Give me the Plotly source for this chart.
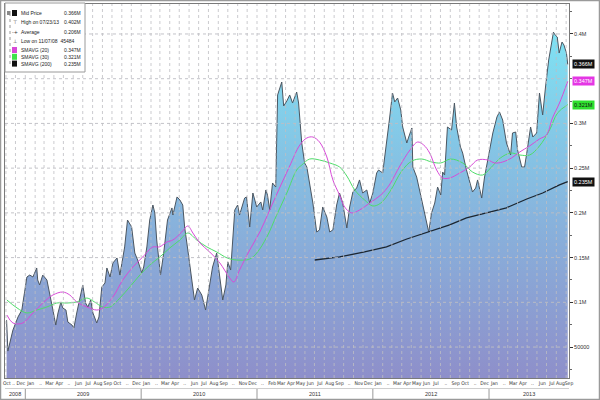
import plotly.graph_objects as go
import pandas as pd

# ---------------- data ----------------
price_dates = [
    "2008-11-03", "2008-11-07", "2008-11-23", "2008-12-09", "2008-12-21", "2008-12-24",
    "2009-01-06", "2009-01-15", "2009-01-25", "2009-02-06", "2009-02-09", "2009-02-15",
    "2009-02-25", "2009-03-10", "2009-03-19", "2009-03-29", "2009-04-07", "2009-04-14",
    "2009-04-23", "2009-04-29", "2009-05-09", "2009-05-15", "2009-05-28", "2009-06-03",
    "2009-06-12", "2009-06-22", "2009-07-01", "2009-07-10", "2009-07-17", "2009-07-26",
    "2009-08-02", "2009-08-14", "2009-08-21", "2009-08-30", "2009-09-09", "2009-09-15",
    "2009-09-25", "2009-10-04", "2009-10-17", "2009-10-26", "2009-11-10", "2009-11-19",
    "2009-12-02", "2009-12-12", "2009-12-21", "2010-01-03", "2010-01-09", "2010-01-19",
    "2010-01-28", "2010-02-07", "2010-02-13", "2010-02-19", "2010-03-03", "2010-03-13",
    "2010-03-25", "2010-04-08", "2010-04-11", "2010-04-24", "2010-05-03", "2010-05-12",
    "2010-05-18", "2010-05-28", "2010-06-09", "2010-06-18", "2010-06-28", "2010-07-11",
    "2010-07-23", "2010-08-02", "2010-08-14", "2010-08-27", "2010-09-06", "2010-09-15",
    "2010-09-25", "2010-10-01", "2010-10-10", "2010-10-23", "2010-11-01", "2010-11-07",
    "2010-11-23", "2010-11-29", "2010-12-09", "2010-12-19", "2010-12-31", "2011-01-13",
    "2011-01-19", "2011-01-29", "2011-02-03", "2011-02-10", "2011-02-19", "2011-03-01",
    "2011-03-07", "2011-03-20", "2011-03-26", "2011-04-05", "2011-04-14", "2011-04-23",
    "2011-05-06", "2011-05-12", "2011-05-22", "2011-05-31", "2011-06-07", "2011-06-16",
    "2011-06-26", "2011-07-08", "2011-07-17", "2011-07-27", "2011-08-09", "2011-08-18",
    "2011-08-28", "2011-09-09", "2011-09-18", "2011-09-28", "2011-10-11", "2011-10-20",
    "2011-10-30", "2011-11-11", "2011-11-20", "2011-11-30", "2011-12-13", "2011-12-22",
    "2012-01-01", "2012-01-13", "2012-01-19", "2012-02-01", "2012-02-13", "2012-02-22",
    "2012-03-03", "2012-03-10", "2012-03-19", "2012-03-29", "2012-04-04", "2012-04-17",
    "2012-04-23", "2012-05-03", "2012-05-06", "2012-05-18", "2012-06-03", "2012-06-12",
    "2012-06-25", "2012-07-04", "2012-07-14", "2012-07-23", "2012-08-02", "2012-08-08",
    "2012-08-14", "2012-08-23", "2012-09-05", "2012-09-14", "2012-09-21", "2012-10-03",
    "2012-10-10", "2012-10-22", "2012-11-01", "2012-11-10", "2012-11-20", "2012-11-26",
    "2012-12-09", "2012-12-18", "2012-12-28", "2013-01-13", "2013-01-26", "2013-02-03",
    "2013-02-13", "2013-02-25", "2013-03-10", "2013-03-16", "2013-03-26", "2013-04-01",
    "2013-04-14", "2013-04-23", "2013-04-30", "2013-05-12", "2013-05-19", "2013-05-31",
    "2013-06-09", "2013-06-19", "2013-06-28", "2013-07-08", "2013-07-23", "2013-07-28",
    "2013-08-04", "2013-08-10", "2013-08-19", "2013-08-25", "2013-09-02", "2013-09-06",
]
price_vals = [
    80000, 45484, 69000, 83600, 91400, 99200,
    128300, 130500, 128300, 138400, 125000, 119400,
    130500, 125000, 110400, 91400, 74600, 88100,
    100400, 93700, 91400, 78000, 74600, 71300,
    88100, 106000, 119400, 99200, 94800, 102600,
    88100, 76900, 83600, 117100, 121600, 138400,
    128300, 144000, 149600, 130500, 161900, 192000,
    184200, 155100, 147300, 132800, 139500, 161900,
    192000, 208800, 199900, 169700, 130500, 155100,
    192000, 205500, 197600, 217800, 214400, 208800,
    184200, 158500, 125000, 102600, 116000, 108200,
    91400, 113800, 139500, 155100, 125000, 102600,
    119400, 145100, 136100, 203200, 208800, 197600,
    216600, 217800, 184200, 222200, 206600, 212200,
    203200, 225600, 220000, 203200, 233400, 228900,
    331800, 346300, 319500, 325100, 331800, 322800,
    335100, 322800, 278100, 255800, 251300, 233400,
    211000, 178600, 180900, 206600, 195400, 178600,
    180900, 208800, 222200, 211000, 183100, 206600,
    223300, 227800, 236800, 222200, 225600, 211000,
    222200, 244600, 247900, 244600, 275900, 303800,
    334000, 324000, 328400, 315000, 296000, 278100,
    284800, 294900, 251300, 240100, 214400, 199900,
    178600, 199900, 211000, 228900, 220000, 245700,
    242300, 296000, 292700, 322800, 296000, 273700,
    266900, 247900, 233400, 223300, 227800, 236800,
    216600, 240100, 259100, 289300, 307200, 312800,
    303800, 278100, 264700, 289300, 290400, 270300,
    251300, 251300, 266900, 296000, 284800, 289300,
    334000, 309400, 340700, 370900, 402000, 399000,
    396600, 378700, 391000, 387700, 378700, 366000,
]

sma20_dates = [
    "2008-11-04", "2008-11-23", "2008-12-24", "2009-01-25", "2009-02-25", "2009-03-29",
    "2009-04-29", "2009-05-21", "2009-06-12", "2009-07-14", "2009-08-14", "2009-09-02",
    "2009-10-04", "2009-11-04", "2009-12-06", "2010-01-06", "2010-02-07", "2010-02-27",
    "2010-03-23", "2010-04-11", "2010-05-09", "2010-05-28", "2010-06-13", "2010-07-05",
    "2010-08-05", "2010-09-06", "2010-10-07", "2010-10-20", "2010-11-07", "2010-12-09",
    "2011-01-10", "2011-02-10", "2011-03-13", "2011-04-14", "2011-05-16", "2011-06-07",
    "2011-06-26", "2011-07-17", "2011-08-09", "2011-08-28", "2011-09-18", "2011-10-04",
    "2011-10-26", "2011-11-20", "2011-12-22", "2012-01-26", "2012-02-22", "2012-03-26",
    "2012-04-27", "2012-05-21", "2012-06-09", "2012-06-28", "2012-07-20", "2012-08-08",
    "2012-08-30", "2012-10-01", "2012-11-01", "2012-11-26", "2012-12-28", "2013-01-19",
    "2013-02-13", "2013-03-13", "2013-04-08", "2013-05-09", "2013-06-09", "2013-07-01",
    "2013-07-20", "2013-08-11", "2013-09-06",
]
sma20_vals = [
    85800, 76900, 76900, 88100, 99200, 108200,
    111500, 108200, 100400, 94800, 91400, 93700,
    106000, 125000, 139500, 150700, 161900, 161900,
    167400, 169700, 178600, 185300, 177500, 166300,
    156300, 144000, 127200, 122700, 136100, 158500,
    178600, 203200, 227800, 252400, 275900, 283700,
    284800, 279200, 262500, 236800, 220000, 206600,
    199900, 203200, 211000, 220000, 231200, 252400,
    270300, 279200, 275900, 266900, 247900, 239000,
    239000, 244600, 251300, 259100, 259100, 255800,
    256900, 261400, 268100, 274800, 282600, 287100,
    306100, 322800, 347000,
]

sma30_dates = [
    "2008-11-04", "2008-12-06", "2009-01-06", "2009-02-06", "2009-03-10", "2009-04-10",
    "2009-05-12", "2009-06-12", "2009-07-14", "2009-08-07", "2009-09-02", "2009-09-25",
    "2009-10-26", "2009-11-26", "2009-12-28", "2010-01-28", "2010-03-01", "2010-04-01",
    "2010-05-03", "2010-05-28", "2010-06-25", "2010-07-27", "2010-08-27", "2010-09-29",
    "2010-10-29", "2010-12-09", "2010-12-31", "2011-02-01", "2011-03-04", "2011-04-05",
    "2011-05-06", "2011-05-22", "2011-06-16", "2011-07-17", "2011-08-18", "2011-09-18",
    "2011-10-11", "2011-11-05", "2011-12-06", "2012-01-01", "2012-01-26", "2012-02-25",
    "2012-04-01", "2012-05-03", "2012-06-03", "2012-07-04", "2012-08-02", "2012-09-02",
    "2012-10-10", "2012-11-10", "2012-12-12", "2013-01-06", "2013-02-06", "2013-03-10",
    "2013-04-08", "2013-05-09", "2013-06-09", "2013-07-11", "2013-08-05", "2013-09-06",
]
sma30_vals = [
    102600, 93700, 88100, 91400, 94800, 99200,
    99200, 100400, 104800, 100400, 94800, 94800,
    104800, 117100, 130500, 141700, 150700, 160700,
    169700, 177500, 169700, 161900, 156300, 149600,
    147300, 148400, 155100, 173000, 197600, 222200,
    247900, 253500, 260200, 259100, 255800, 251300,
    241200, 225600, 214400, 207700, 211000, 224500,
    246800, 258000, 260200, 256900, 255800, 260200,
    255800, 245700, 242300, 250200, 261400, 266900,
    264700, 264700, 274800, 292700, 311700, 321000,
]

sma200_dates = [
    "2011-07-02", "2011-09-18", "2011-12-06", "2012-02-13", "2012-04-17", "2012-06-25",
    "2012-08-30", "2012-10-22", "2012-12-25", "2013-02-25", "2013-04-30", "2013-06-19",
    "2013-08-11", "2013-09-06",
]
sma200_vals = [
    147300, 150700, 156300, 161900, 170800, 178600,
    186500, 194300, 199900, 205700, 215500, 222200,
    231200, 235000,
]

month_labels = [
    "Oct", "..", "Dec",
    "Jan", "..", "Mar", "Apr", "..", "Jun", "Jul", "Aug", "Sep", "Oct", "..", "Dec",
    "Jan", "..", "Mar", "Apr", "..", "Jun", "Jul", "Aug", "Sep", "..", "Nov", "Dec",
    "..", "Feb", "Mar", "Apr", "May", "Jun", "Jul", "Aug", "Sep", "..", "Nov", "Dec",
    "Jan", "..", "Mar", "Apr", "May", "Jun", "Jul", "..", "Sep", "Oct", "..", "Dec",
    "Jan", "..", "Mar", "Apr", "..", "Jun", "Jul", "Aug", "Sep",
]
year_labels = ["2008", "2009", "2010", "2011", "2012", "2013"]

y_tick_vals = [50000, 100000, 150000, 200000, 250000, 300000, 400000]
y_tick_text = ["50000", "0.1M", "0.15M", "0.2M", "0.25M", "0.3M", "0.4M"]

legend_labels = ["Mid Price", "High on 07/23/13", "Average", "Low on 11/07/08  45484",
                 "SMAVG (20)", "SMAVG (30)", "SMAVG (200)"]
legend_values = ["0.366M", "0.402M", "0.206M", "", "0.347M", "0.321M", "0.235M"]

# ---------------- layout geometry ----------------
W, H = 600, 400
L, R, T, B = 5, 31, 4, 22
PW, PH = W - L - R, H - T - B
X_START, X_END = "2008-10-29", "2013-09-10"
Y_MIN, Y_MAX = 15400, 433500

C_MAG = "#d84ad8"
C_GRN = "#4fdc6a"
C_BLK = "#1c2630"
FONT = "Liberation Sans"
NARROW = "Liberation Sans Narrow, DejaVu Sans Condensed, Liberation Sans"


def px(x):
    return (x - L) / PW


def py(y):
    return 1 - (y - T) / PH


fig = go.Figure()

fig.add_trace(go.Scatter(
    x=price_dates, y=price_vals, mode="lines",
    line=dict(color="#4b5661", width=1),
    fill="tozeroy",
    fillgradient=dict(type="vertical", start=Y_MIN, stop=400000,
                      colorscale=[[0, "#8e8fca"], [0.45, "#88b2dc"], [1, "#7fe2f3"]]),
    hoverinfo="skip", showlegend=False,
))
fig.add_trace(go.Scatter(x=sma200_dates, y=sma200_vals, mode="lines",
                         line=dict(color=C_BLK, width=1.3), showlegend=False))
fig.add_trace(go.Scatter(x=sma30_dates, y=sma30_vals, mode="lines", line_shape="spline",
                         line=dict(color=C_GRN, width=1), showlegend=False))
fig.add_trace(go.Scatter(x=sma20_dates, y=sma20_vals, mode="lines", line_shape="spline",
                         line=dict(color=C_MAG, width=1), showlegend=False))

# month tick positions
months = pd.date_range("2008-10-01", "2013-09-01", freq="MS")
tick_pos = [m + pd.Timedelta(days=17) for m in months]
tick_pos[0] = pd.Timestamp("2008-11-04")
tick_pos[1] = pd.Timestamp("2008-11-25")
tick_pos[-2] = pd.Timestamp("2013-08-14")
tick_pos[-1] = pd.Timestamp(X_END)

shapes = []
# dotted grid (drawn above the area fill like the reference)
for v in range(50000, 450000, 50000):
    shapes.append(dict(type="line", xref="paper", x0=0, x1=1, yref="y", y0=v, y1=v,
                       line=dict(color="rgba(190,190,195,0.9)", width=1, dash="dot"),
                       layer="above"))
for m in pd.date_range("2008-11-01", "2013-09-01", freq="MS"):
    shapes.append(dict(type="line", xref="x", x0=m, x1=m, yref="paper", y0=0, y1=1,
                       line=dict(color="rgba(190,190,195,0.8)", width=1, dash="dot"),
                       layer="above"))

# year separators and row line under month labels
for yr in range(2009, 2014):
    shapes.append(dict(type="line", xref="x", x0=f"{yr}-01-01", x1=f"{yr}-01-01",
                       yref="paper", y0=py(388), y1=py(399),
                       line=dict(color="#999", width=1)))
shapes.append(dict(type="line", xref="paper", x0=0, x1=1, yref="paper", y0=py(388.5), y1=py(388.5),
                   line=dict(color="#cfcfcf", width=1)))

# outer border of whole picture
shapes.append(dict(type="rect", xref="paper", yref="paper",
                   x0=px(0.5), x1=px(599.5), y0=py(399.5), y1=py(0.5),
                   line=dict(color="#9a9a9a", width=1.5)))

# legend box
shapes.append(dict(type="rect", xref="paper", yref="paper",
                   x0=px(5), x1=px(85), y0=py(72), y1=py(3),
                   fillcolor="white", line=dict(color="#9a9a9a", width=1), layer="above"))
shapes.append(dict(type="line", xref="paper", yref="paper",
                   x0=px(10), x1=px(10), y0=py(64), y1=py(15),
                   line=dict(color="#999", width=1, dash="dot"), layer="above"))

rows = [13, 22.5, 32, 41, 50, 56.8, 63.6]
icon_colors = ["#111", None, None, None, C_MAG, "#3ee24a", "#111"]
icon_chars = [None, "\u22a4", "-+", "\u22a5", None, None, None]

annotations = []
shapes.append(dict(type="rect", xref="paper", yref="paper",
                   x0=px(7), x1=px(10.5), y0=py(rows[0] + 2), y1=py(rows[0] - 2),
                   fillcolor="#888", line=dict(width=0), layer="above"))
for i, (lab, val) in enumerate(zip(legend_labels, legend_values)):
    yc = rows[i]
    if icon_colors[i]:
        shapes.append(dict(type="rect", xref="paper", yref="paper",
                           x0=px(12), x1=px(17), y0=py(yc + 3), y1=py(yc - 3),
                           fillcolor=icon_colors[i], line=dict(width=0), layer="above"))
    else:
        annotations.append(dict(xref="paper", yref="paper", x=px(14.5), y=py(yc),
                                text=icon_chars[i], showarrow=False,
                                font=dict(family="DejaVu Sans", size=5, color="#333"),
                                xanchor="center", yanchor="middle"))
    annotations.append(dict(xref="paper", yref="paper", x=px(19), y=py(yc), text=lab,
                            showarrow=False, font=dict(family=FONT, size=5, color="#222"),
                            xanchor="left", yanchor="middle"))
    if val:
        annotations.append(dict(xref="paper", yref="paper", x=px(83), y=py(yc), text=val,
                                showarrow=False, font=dict(family=FONT, size=5, color="#222"),
                                xanchor="right", yanchor="middle"))

# last-value badges on right axis
badges = [
    (price_vals[-1], "0.366M", "#111111", "white"),
    (sma20_vals[-1], "0.347M", "#e436e4", "white"),
    (sma30_vals[-1], "0.321M", "#2ee02e", "#111"),
    (sma200_vals[-1], "0.235M", "#111111", "white"),
]
for v, txt, bg, fc in badges:
    annotations.append(dict(xref="paper", yref="y", x=1, y=v, text=txt, showarrow=False,
                            xanchor="left", yanchor="middle", xshift=3,
                            bgcolor=bg, borderpad=1,
                            font=dict(family=FONT, size=5.5, color=fc)))

# year labels
year_pos = ["2008-11-30", "2009-07-02", "2010-07-02", "2011-07-02", "2012-07-02", "2013-05-06"]
for yl, yp in zip(year_labels, year_pos):
    annotations.append(dict(xref="x", yref="paper", x=yp, y=py(394), text=yl,
                            showarrow=False, xanchor="center", yanchor="middle",
                            font=dict(family=FONT, size=5.5, color="#333")))

fig.update_layout(
    width=W, height=H,
    margin=dict(l=L, r=R, t=T, b=B, pad=0),
    paper_bgcolor="white", plot_bgcolor="white",
    showlegend=False,
    shapes=shapes, annotations=annotations,
    xaxis=dict(type="date", range=[X_START, X_END], tickvals=tick_pos, ticktext=month_labels,
               tickangle=0, showgrid=False, zeroline=False, ticks="",
               tickfont=dict(family=NARROW, size=5, color="#333"),
               showline=True, linecolor="#7a7a7a", linewidth=1, mirror=True),
    yaxis=dict(range=[Y_MIN, Y_MAX], side="right", tickvals=y_tick_vals, ticktext=y_tick_text,
               showgrid=False, zeroline=False, ticks="outside", ticklen=3, tickcolor="#333",
               tickfont=dict(family=FONT, size=5.5, color="#333"),
               minor=dict(dtick=25000, tick0=0, ticks="outside", ticklen=2, tickcolor="#666"),
               showline=True, linecolor="#7a7a7a", linewidth=1, mirror=True),
)

fig.write_html("out.html", config={"displayModeBar": False},
               post_script="document.body.style.margin='0';document.body.style.padding='0';")
